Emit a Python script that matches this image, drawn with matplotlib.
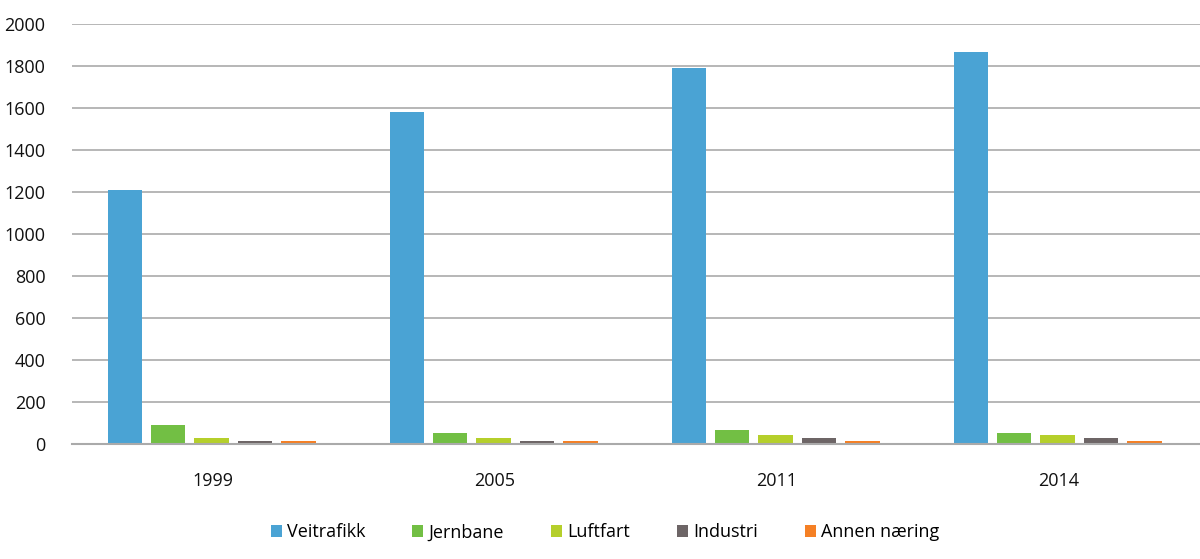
import matplotlib
matplotlib.use('Agg')
import matplotlib.pyplot as plt
import numpy as np

years = ['1999', '2005', '2011', '2014']
series = ['Veitrafikk', 'Jernbane', 'Luftfart', 'Industri', 'Annen næring']
veitrafikk = [1210, 1580, 1790, 1866]
jernbane = [90, 52, 65, 52]
luftfart = [27, 27, 41, 41]
industri = [14, 14, 27, 27]
annen = [14, 14, 14, 14]
colors = ['#4aa3d4', '#72bf44', '#b5cf2b', '#6d6566', '#f58025']

plt.rcParams['font.family'] = ['Open Sans', 'DejaVu Sans']

fig = plt.figure(figsize=(12, 5.59), dpi=100)
ax = fig.add_axes([0.06, 0.206, 0.94, 0.751])

x = np.arange(len(years))
step = 0.154
width = 0.122
for i, (name, vals) in enumerate(zip(series, [veitrafikk, jernbane, luftfart, industri, annen])):
    ax.bar(x + (i - 2) * step - 0.005, vals, width, color=colors[i], label=name, zorder=3)

ax.set_xlim(-0.5, 3.5)
ax.set_ylim(0, 2000)
ax.set_yticks(range(0, 2001, 200))
ax.yaxis.grid(True, color='#aaaaaa', linewidth=1.2, zorder=0)
ax.set_xticks(x)
ax.set_xticklabels(years)
ax.tick_params(axis='both', length=0, labelsize=13, colors='#111111')
ax.tick_params(axis='y', pad=19)
ax.tick_params(axis='x', pad=20)
for side in ['top', 'right', 'left']:
    ax.spines[side].set_visible(False)
ax.spines['bottom'].set_color('#aaaaaa')
ax.spines['bottom'].set_linewidth(1.5)
ax.spines['bottom'].set_zorder(4)

ax.legend(loc='center', bbox_to_anchor=(0.5045 - 0.06 / 2 / 0.94, -0.211), ncol=5, frameon=False,
          fontsize=13, handlelength=0.6, handleheight=0.6, handletextpad=0.3,
          columnspacing=2.6)

fig.savefig('out.png', dpi=100)
